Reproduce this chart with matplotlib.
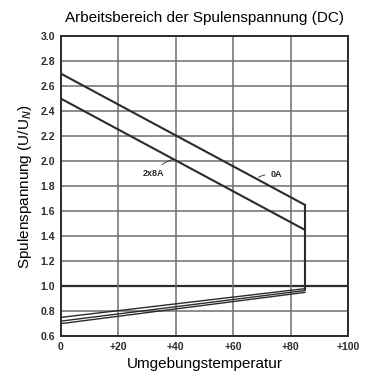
import matplotlib
matplotlib.use("Agg")
from matplotlib import pyplot as plt

plt.rcParams["font.family"] = ["Liberation Sans", "DejaVu Sans"]

# Values
temps = [0, 85]
line_0A = [2.70, 1.65]
line_2x8A = [2.50, 1.45]
lower_a = [0.75, 0.98]
lower_b = [0.72, 0.965]
lower_c = [0.70, 0.95]
x_ticks = [0, 20, 40, 60, 80, 100]
x_labels = ["0", "+20", "+40", "+60", "+80", "+100"]
y_ticks = [0.6, 0.8, 1.0, 1.2, 1.4, 1.6, 1.8, 2.0, 2.2, 2.4, 2.6, 2.8, 3.0]

fig = plt.figure(figsize=(3.71, 3.76), dpi=100)
ax = fig.add_axes([0.164, 0.106, 0.774, 0.798])

ink = "#2b2b2b"
grid = "#6e6e6e"

for y in y_ticks:
    ax.axhline(y, color=ink if y == 1.0 else grid, lw=1.6 if y == 1.0 else 1.1, zorder=1)
for x in x_ticks[1:-1]:
    ax.axvline(x, color=grid, lw=1.1, zorder=1)

# upper limit lines and the vertical closing line at 85 degC
ax.plot(temps, line_0A, color=ink, lw=1.5, zorder=3)
ax.plot(temps, line_2x8A, color=ink, lw=1.5, zorder=3)
ax.plot([85, 85], [lower_a[1], line_0A[1]], color=ink, lw=1.5, zorder=3)

# lower limit lines
for ys in (lower_a, lower_b, lower_c):
    ax.plot(temps, ys, color=ink, lw=1.0, zorder=3)

ax.annotate("0A", xy=(68, 1.86), xytext=(73, 1.89), fontsize=6.5, fontweight="bold",
            color=ink, ha="left", va="center",
            arrowprops=dict(arrowstyle="-", color=ink, lw=0.6, connectionstyle="arc3,rad=0.2"))
ax.annotate("2x8A", xy=(40, 2.02), xytext=(36, 1.90), fontsize=6.5, fontweight="bold",
            color=ink, ha="right", va="center",
            arrowprops=dict(arrowstyle="-", color=ink, lw=0.6, connectionstyle="arc3,rad=-0.2"))

ax.set_xlim(0, 100)
ax.set_ylim(0.6, 3.0)
ax.set_xticks(x_ticks)
ax.set_xticklabels(x_labels)
ax.set_yticks(y_ticks)
ax.set_yticklabels(["%.1f" % v for v in y_ticks])
ax.tick_params(length=0, labelsize=7.5, colors=ink, pad=4)
for lab in ax.get_xticklabels() + ax.get_yticklabels():
    lab.set_fontweight("bold")
for s in ax.spines.values():
    s.set_color(ink)
    s.set_linewidth(1.4)

ax.set_title("Arbeitsbereich der Spulenspannung (DC)", fontsize=11, pad=10)
ax.set_xlabel("Umgebungstemperatur", fontsize=11, labelpad=4)
ax.set_ylabel("Spulenspannung (U/U$_N$)", fontsize=11, labelpad=5)

fig.savefig("out.png", dpi=100)
